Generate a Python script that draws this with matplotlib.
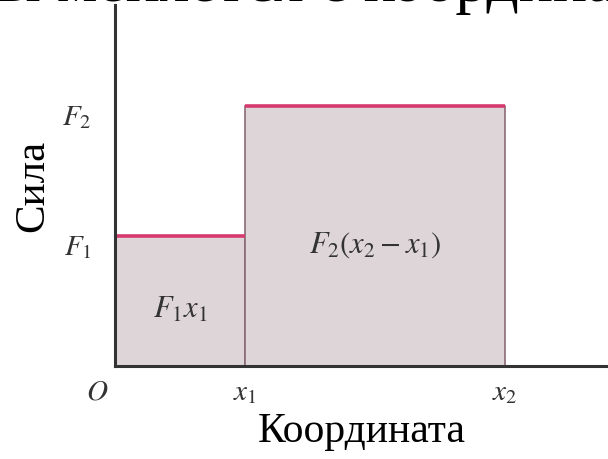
import numpy as np
import matplotlib.pyplot as plt
from matplotlib.transforms import ScaledTranslation

# work of a piecewise-constant force: two steps
coords = [0, 1, 3]          # O, x1, x2
forces = [1, 2]             # F1, F2
x_labels = ['$x_1$', '$x_2$']
y_labels = ['$F_1$', '$F_2$']
area_labels = ['$F_1x_1$', '$F_2(x_2 - x_1)$']
title_part = 'ы меняется с координа'

fill_color = '#ddd5d8'
step_color = '#d63a6e'
edge_color = '#8b6b75'
axis_color = '#333333'
text_color = '#333333'

plt.rcParams['font.family'] = ['Liberation Serif', 'DejaVu Serif']
plt.rcParams['mathtext.fontset'] = 'stix'


def plot_graph():
    fig = plt.figure(figsize=(6.08, 4.59), dpi=100)
    W, H = 608, 459
    # axes box in pixel terms: origin at (115, 366), top near y=5
    ax = fig.add_axes([115 / W, (H - 366) / H, (W - 115) / W, (366 - 5) / H])
    unit_x = 130
    unit_y = 130
    ax.set_xlim(0, (W - 115) / unit_x)
    ax.set_ylim(0, (366 - 5) / unit_y)

    widths = np.diff(coords)
    ax.bar(coords[:-1], forces, width=widths, align='edge',
           color=fill_color, edgecolor=edge_color, linewidth=1.2, zorder=1)
    ax.hlines(forces, coords[:-1], coords[1:], color=step_color,
              linewidth=2.6, zorder=3)

    for side in ['top', 'right']:
        ax.spines[side].set_visible(False)
    for side in ['left', 'bottom']:
        ax.spines[side].set_color(axis_color)
        ax.spines[side].set_linewidth(2.2)
        ax.spines[side].set_zorder(4)

    ax.set_xticks(coords[1:])
    ax.set_xticklabels(x_labels, fontsize=21)
    ax.set_yticks(forces)
    ax.set_yticklabels(y_labels, fontsize=21)
    ax.tick_params(length=0, pad=10, colors=text_color)
    ax.tick_params(axis='y', pad=17)
    # F labels sit a little below their levels
    shift = ScaledTranslation(0, -9 / 100, fig.dpi_scale_trans)
    for lab in ax.get_yticklabels():
        lab.set_transform(lab.get_transform() + shift)
    ax.text(-0.14, -0.1, '$O$', fontsize=21, ha='center', va='top',
            color=text_color)

    ax.text(0.5, 0.43, area_labels[0], fontsize=22, ha='center',
            va='center', color=text_color)
    ax.text(2.0, 0.93, area_labels[1], fontsize=22, ha='center',
            va='center', color=text_color)

    ax.set_xlabel('Координата', fontsize=30, labelpad=5)
    ax.set_ylabel('Сила', fontsize=31, labelpad=7)

    # heading line above the plot, mostly outside the canvas
    fig.text(-2 / W, 1 - 1 / H, title_part, fontsize=46, ha='left',
             va='baseline', color='black')

    fig.savefig('out.png', dpi=100)


if __name__ == "__main__":
    plot_graph()
